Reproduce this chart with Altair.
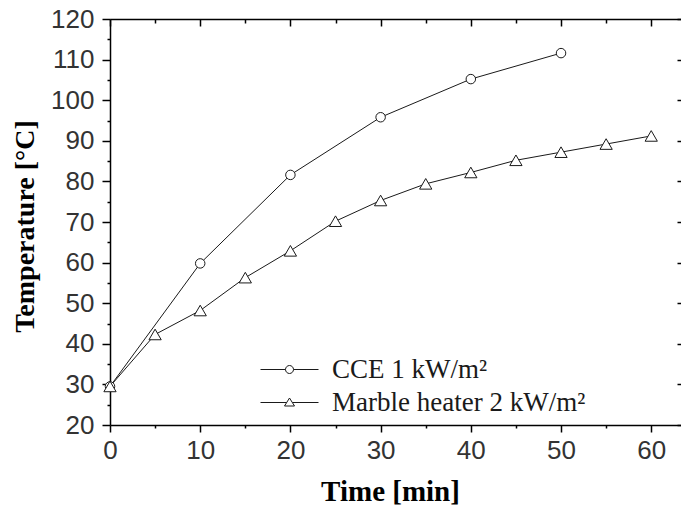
import altair as alt
import pandas as pd

# ---- data ----
cce_label = "CCE 1 kW/m²"
marble_label = "Marble heater 2 kW/m²"
cce_time = [0, 10, 20, 30, 40, 50]
cce_temp = [29.5, 59.8, 81.6, 95.8, 105.2, 111.6]
marble_time = [0, 5, 10, 15, 20, 25, 30, 35, 40, 45, 50, 55, 60]
marble_temp = [29.5, 42.3, 48.2, 56.3, 62.9, 70.2, 75.3, 79.4, 82.2, 85.2, 87.2, 89.2, 91.2]
x_ticks = [0, 5, 10, 15, 20, 25, 30, 35, 40, 45, 50, 55, 60]
y_ticks = [20, 25, 30, 35, 40, 45, 50, 55, 60, 65, 70, 75, 80, 85, 90, 95, 100, 105, 110, 115, 120]
y_right_ticks = [20, 30, 40, 50, 60, 70, 80, 90, 100, 110, 120]

rows = [{"t": t, "T": v, "series": cce_label} for t, v in zip(cce_time, cce_temp)]
rows += [{"t": t, "T": v, "series": marble_label} for t, v in zip(marble_time, marble_temp)]
df = pd.DataFrame(rows)
order = [cce_label, marble_label]

W, H = 571, 406
xs = alt.Scale(domain=[0, 63.3], nice=False, zero=False)
ys = alt.Scale(domain=[20, 120], nice=False, zero=False)

label_font = "Liberation Sans"
title_font = "Liberation Serif"
lab_color = "#333333"
ink = "#1a1a1a"

major10 = "datum.value % 10 === 0"

x_bottom = alt.Axis(
    values=x_ticks, labelExpr=f"{major10} ? datum.label : ''",
    tickSize={"condition": {"test": major10, "value": 7}, "value": 3},
    grid=False, domainColor="black", tickColor="black", domainWidth=1.5, tickWidth=1.5,
    labelFont=label_font, labelFontSize=26, labelColor=lab_color, labelPadding=5,
    title="Time [min]", titleFont=title_font, titleFontSize=29, titleFontWeight="bold",
    titleColor="black", titleX=280, titleY=75, titleBaseline="alphabetic", titleAnchor="middle",
    labelFlush=False, labelOverlap=False,
)
y_left = alt.Axis(
    values=y_ticks, labelExpr=f"{major10} ? datum.label : ''",
    tickSize={"condition": {"test": major10, "value": 8}, "value": 3},
    grid=False, domainColor="black", tickColor="black", domainWidth=1.5, tickWidth=1.5,
    labelFont=label_font, labelFontSize=26, labelColor=lab_color, labelPadding=8,
    title="Temperature [°C]", titleFont=title_font, titleFontSize=28, titleFontWeight="bold",
    titleColor="black", titleX=-77, titleY=207, titleBaseline="alphabetic", titleAnchor="middle",
    labelFlush=False, labelOverlap=False,
)
x_top = alt.Axis(
    orient="bottom", offset=-H, values=x_ticks, labels=False, title=None, grid=False,
    tickSize={"condition": {"test": major10, "value": 7}, "value": 4},
    domainColor="black", tickColor="black", domainWidth=1.5, tickWidth=1.5,
)
y_right = alt.Axis(
    orient="left", offset=-W, values=y_right_ticks, labels=False, title=None, grid=False,
    tickSize=4, domain=False, tickColor="black", tickWidth=1.5,
)

base = alt.Chart(df)

lines = base.mark_line(color=ink, strokeWidth=1).encode(
    x=alt.X("t:Q", scale=xs, axis=x_bottom),
    y=alt.Y("T:Q", scale=ys, axis=y_left),
    detail="series:N",
)

cce_points = base.transform_filter(alt.datum.series == cce_label).mark_point(
    shape="circle", size=90, filled=True, fill="white", stroke=ink, strokeWidth=1, opacity=1
).encode(
    x=alt.X("t:Q", scale=xs, axis=x_top),
    y=alt.Y("T:Q", scale=ys, axis=y_right),
)
marble_points = base.transform_filter(alt.datum.series == marble_label).mark_point(
    shape="triangle-up", size=150, filled=True, fill="white", stroke=ink, strokeWidth=1, opacity=1
).encode(
    x=alt.X("t:Q", scale=xs, axis=None),
    y=alt.Y("T:Q", scale=ys, axis=None),
)

circ_path = ("M -2.9 0 L -0.4 0 M 0.4 0 L 2.9 0 "
             "M 0.4 0 A 0.4 0.4 0 1 1 -0.4 0 A 0.4 0.4 0 1 1 0.4 0 Z")
tri_path = ("M -2.9 0 L -0.3 0 M 0.3 0 L 2.9 0 "
            "M -0.5 0.35 L 0.5 0.35 L 0 -0.45 Z")

legend_layer = base.mark_point(filled=False, color=ink, opacity=0).encode(
    x=alt.X("t:Q", scale=xs, axis=None),
    y=alt.Y("T:Q", scale=ys, axis=None),
    shape=alt.Shape(
        "series:N",
        scale=alt.Scale(domain=order, range=[circ_path, tri_path]),
        legend=alt.Legend(
            title=None, orient="none", legendX=166, legendY=337, padding=0,
            symbolSize=400, symbolOpacity=1, symbolFillColor="white",
            symbolStrokeColor=ink, symbolStrokeWidth=1,
            labelFont=title_font, labelFontSize=27, labelColor=ink,
            labelOffset=29, rowPadding=5, labelLimit=0,
        ),
    ),
)

chart = (
    alt.layer(lines, cce_points, marble_points, legend_layer)
    .resolve_axis(x="independent", y="independent")
    .properties(
        width=W, height=H,
        autosize=alt.AutoSizeParams(type="none"),
        padding={"left": 102, "top": 11, "right": 0, "bottom": 80},
    )
    .configure_view(stroke=None)
    .configure(background="white")
)

chart.save("out.html", embed_options={"renderer": "svg", "actions": False})
